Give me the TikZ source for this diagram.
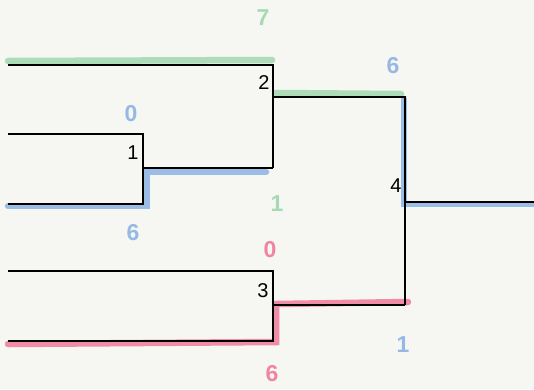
\documentclass[tikz,border=0pt]{standalone}
\usepackage{fontspec}
\setmainfont{Liberation Sans}
\definecolor{paper}{RGB}{246,246,242}
\definecolor{hlgreen}{RGB}{150,210,165}
\definecolor{hlblue}{RGB}{125,170,225}
\definecolor{hlpink}{RGB}{238,105,140}
\begin{document}
\begin{tikzpicture}[x=1pt,y=-1pt,
  bline/.style={line width=2.6pt,black},
  hl/.style={line width=6.5pt,opacity=0.75,line cap=round},
  num/.style={font=\fontsize{20}{20}\selectfont,inner sep=0pt},
  score/.style={font=\bfseries\fontsize{23}{23}\selectfont,inner sep=0pt,opacity=0.8}]
\fill[paper] (0,0) rectangle (534,389);
\useasboundingbox (0,0) rectangle (534,389);
% coordinates
\coordinate (e1) at (8,65);
\coordinate (e2) at (8,134);
\coordinate (e3) at (8,204);
\coordinate (e4) at (8,271);
\coordinate (e5) at (8,341);
\coordinate (m1t) at (143,134);
\coordinate (m1b) at (143,204);
\coordinate (m1o) at (143,168);
\coordinate (m2t) at (273,65);
\coordinate (m2b) at (273,168);
\coordinate (m2o) at (273,97);
\coordinate (m3t) at (273,271);
\coordinate (m3b) at (273,341);
\coordinate (m3o) at (273,305);
\coordinate (m4t) at (405,97);
\coordinate (m4b) at (405,305);
\coordinate (m4o) at (405,202);
\coordinate (fin) at (534,202);
% highlighter strokes
\draw[hl,hlgreen] (8,61) -- (272,60);
\draw[hl,hlgreen] (276,93) -- (401,94);
\draw[hl,hlblue] (8,206) -- (147,206) -- (147,172) -- (266,172);
\draw[hl,hlblue] (404,99) -- (404,204) -- (534,204);
\draw[hl,hlpink] (8,344) -- (276,342) -- (276,304) -- (408,302);
% bracket lines
\draw[bline] (e2) -- (m1t) -- (m1b) -- (e3);
\draw[bline] (m1o) -- (m2b);
\draw[bline] (e1) -- (m2t) -- (m2b);
\draw[bline] (m2o) -- (m4t) -- (m4b);
\draw[bline] (e4) -- (m3t) -- (m3b) -- (e5);
\draw[bline] (m3o) -- (m4b);
\draw[bline] (m4o) -- (fin);
% match numbers
\node[num] (n1) at (133,153) {1};
\node[num] (n2) at (264,83) {2};
\node[num] (n3) at (263,291) {3};
\node[num] (n4) at (396,186) {4};
% scores
\node[score,hlblue] (s1a) at (131,114) {0};
\node[score,hlblue] (s1b) at (133,233) {6};
\node[score,hlgreen] (s2a) at (263,18) {7};
\node[score,hlgreen] (s2b) at (277,204) {1};
\node[score,hlblue] (s4a) at (393,66) {6};
\node[score,hlblue] (s4b) at (403,345) {1};
\node[score,hlpink] (s3a) at (270,250) {0};
\node[score,hlpink] (s3b) at (272,374) {6};
\end{tikzpicture}
\end{document}
